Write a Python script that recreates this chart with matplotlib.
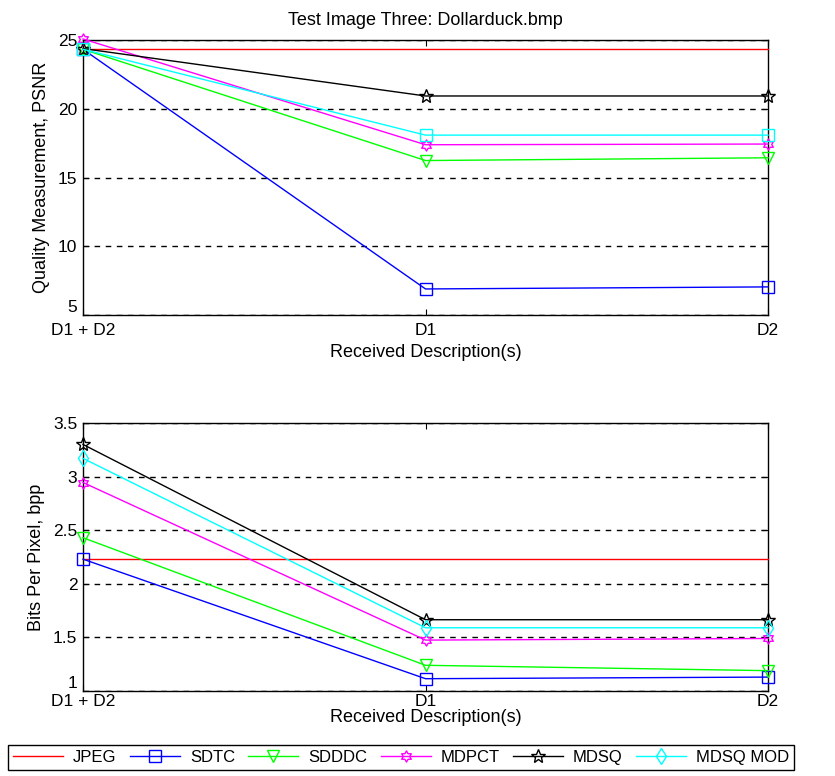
import matplotlib
matplotlib.use('Agg')
import numpy as np
from matplotlib import pyplot as plt
from matplotlib.path import Path

plt.rcParams['font.family'] = ['Liberation Sans', 'DejaVu Sans']
plt.rcParams['font.size'] = 12.5

# dados
xpos = [1, 2, 3]
xlabels = ['D1 + D2', 'D1', 'D2']
names = ['JPEG', 'SDTC', 'SDDDC', 'MDPCT', 'MDSQ', 'MDSQ MOD']

psnr_jpeg = [24.35, 24.35, 24.35]
psnr_sdtc = [24.35, 6.9, 7.05]
psnr_sdddc = [24.35, 16.25, 16.45]
psnr_mdpct = [25.1, 17.4, 17.45]
psnr_mdsq = [24.4, 20.95, 20.95]
psnr_mdsqmod = [24.35, 18.1, 18.1]

bpp_jpeg = [2.235, 2.235, 2.235]
bpp_sdtc = [2.23, 1.115, 1.13]
bpp_sdddc = [2.43, 1.24, 1.19]
bpp_mdpct = [2.945, 1.475, 1.49]
bpp_mdsq = [3.30, 1.665, 1.665]
bpp_mdsqmod = [3.17, 1.59, 1.59]

cores = ['#ff0000', '#0000ff', '#00ff00', '#ff00ff', '#000000', '#00ffff']

# marcador hexagrama (estrela de 6 pontas, como no matlab)
ang = np.pi / 2 + np.arange(12) * np.pi / 6
rad = np.where(np.arange(12) % 2 == 0, 1.0, 1 / np.sqrt(3))
verts = np.column_stack([rad * np.cos(ang), rad * np.sin(ang)])
verts = np.vstack([verts, verts[0]])
hexagrama = Path(verts, closed=True)

fig = plt.figure(figsize=(8.35, 7.76), dpi=100)
ax1 = fig.add_axes([0.0994, 0.594, 0.8204, 0.354])
ax2 = fig.add_axes([0.0994, 0.1095, 0.8204, 0.3454])

top = [psnr_jpeg, psnr_sdtc, psnr_sdddc, psnr_mdpct, psnr_mdsq, psnr_mdsqmod]
bot = [bpp_jpeg, bpp_sdtc, bpp_sdddc, bpp_mdpct, bpp_mdsq, bpp_mdsqmod]
mk_top = ['None', 's', 'v', hexagrama, '*', 's']
mk_bot = ['None', 's', 'v', hexagrama, '*', 'd']
ms = [8, 8, 8, 8, 10, 8]

for i in range(6):
    ax1.plot(xpos, top[i], color=cores[i], marker=mk_top[i], markersize=ms[i],
             markerfacecolor='none', lw=1, clip_on=False, zorder=3)
    ax2.plot(xpos, bot[i], color=cores[i], marker=mk_bot[i], markersize=ms[i],
             markerfacecolor='none', lw=1, clip_on=False, zorder=3, label=names[i])

for ax in (ax1, ax2):
    ax.set_xlim(1, 3)
    ax.set_xticks(xpos)
    ax.set_xticklabels(xlabels)
    ax.tick_params(direction='in', top=True, right=True, length=4)
    ax.tick_params(axis='y', pad=4)
    ax.yaxis.grid(True, color='k', linestyle=(0, (4, 4)), lw=1)
    for s in ax.spines.values():
        s.set_linewidth(1)

ax1.tick_params(axis='x', pad=6)
ax1.set_xlabel('Received Description(s)', labelpad=4, fontsize=13)
ax2.tick_params(axis='x', pad=2)
ax2.set_xlabel('Received Description(s)', labelpad=0, fontsize=13)

ax1.set_ylim(5, 25)
ax1.set_yticks([5, 10, 15, 20, 25])
ax1.set_ylabel('Quality Measurement, PSNR', labelpad=6, fontsize=13)
ax1.set_title('Test Image Three: Dollarduck.bmp', pad=11, fontsize=13)

ax2.set_ylim(1, 3.5)
ax2.set_yticks([1, 1.5, 2, 2.5, 3, 3.5])
ax2.set_yticklabels(['1', '1.5', '2', '2.5', '3', '3.5'])
ax2.set_ylabel('Bits Per Pixel, bpp', labelpad=6, fontsize=13)

# o menor rótulo de y fica um pouco acima do canto (como no original)
for ax in (ax1, ax2):
    lab = ax.get_yticklabels()[0]
    lab.set_verticalalignment('bottom')

h, l = ax2.get_legend_handles_labels()
leg = fig.legend(h, l, loc='upper left', bbox_to_anchor=(8 / 835, 1 - 745 / 776),
                 ncol=6, fancybox=False, edgecolor='k', handlelength=3.0,
                 columnspacing=0.8, handletextpad=0.6, borderpad=0.3,
                 borderaxespad=0, framealpha=1, fontsize=12)
leg.get_frame().set_linewidth(1)

plt.savefig('out.png', dpi=100)
